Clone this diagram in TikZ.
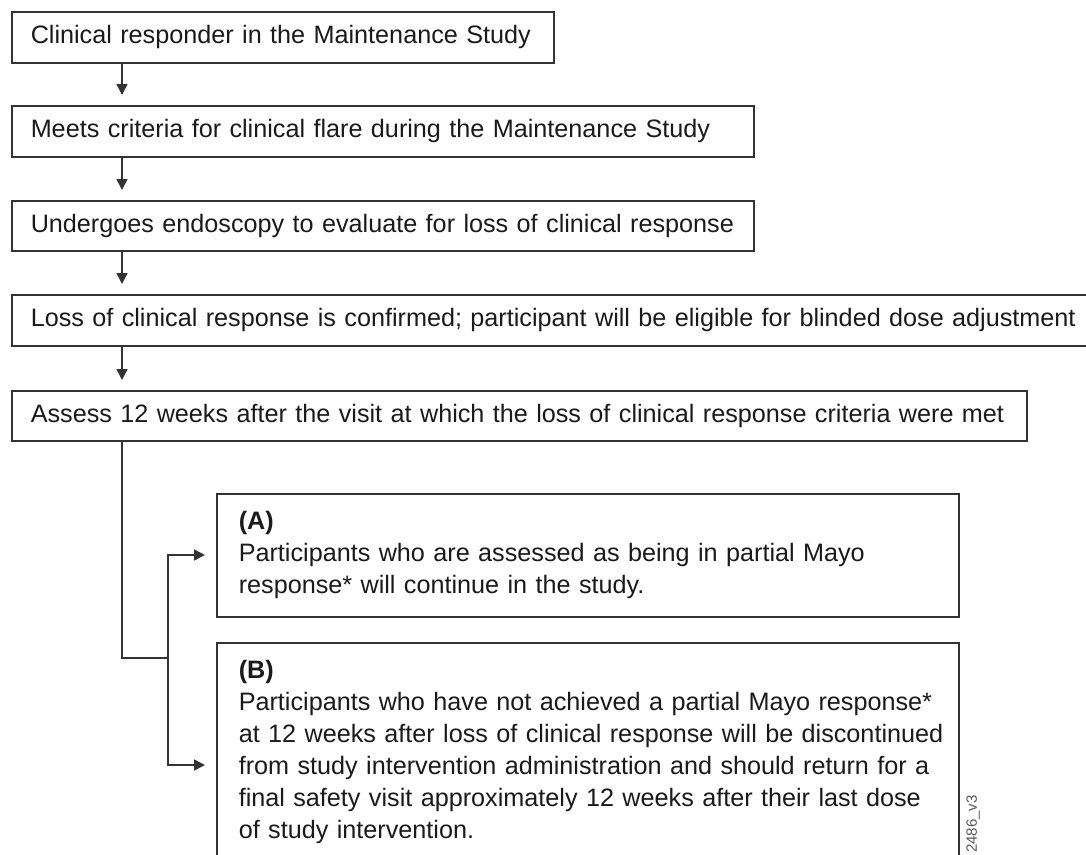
\documentclass[tikz,border=0pt]{standalone}
\usepackage{fontspec}
\setmainfont{Liberation Sans}
\usetikzlibrary{arrows.meta,calc}
\definecolor{linec}{HTML}{333333}
\definecolor{txtc}{HTML}{1A1A1A}
\definecolor{tagc}{HTML}{5A5A5A}
\newcommand{\ml}[1]{\mbox{#1}}
\begin{document}
\begin{tikzpicture}[x=1pt,y=-1pt,
  box/.style={draw=linec, line width=1.5pt, rectangle, anchor=north west, inner xsep=19pt, inner ysep=0pt, align=left, font=\fontsize{25.2}{32}\selectfont, text=txtc},
  arr/.style={draw=linec, line width=1.5pt, -{Triangle[length=11pt,width=11pt]}},
  ln/.style={draw=linec, line width=1.5pt}]
\useasboundingbox (0,0) rectangle (1086,854);
\clip (0,0) rectangle (1086,854);
\fill[white] (0,0) rectangle (1086,854);
\node[box, text width=504pt, minimum height=51pt] (b1) at (11,11) {\ml{Clinical responder in the Maintenance Study}};
\node[box, text width=704pt, minimum height=51pt] (b2) at (11,105) {\ml{Meets criteria for clinical flare during the Maintenance Study}};
\node[box, text width=704pt, minimum height=50pt] (b3) at (11,200) {\ml{Undergoes endoscopy to evaluate for loss of clinical response}};
\node[box, text width=1062pt, minimum height=51pt] (b4) at (11,294) {\ml{Loss of clinical response is confirmed; participant will be eligible for blinded dose adjustment}};
\node[box, text width=977pt, minimum height=50pt] (b5) at (11,390) {\ml{Assess 12 weeks after the visit at which the loss of clinical response criteria were met}};
\node[box, inner xsep=22pt, text width=698pt, minimum height=123pt] (bA) at (216,493) {\textbf{(A)}\\\ml{Participants who are assessed as being in partial Mayo}\\\ml{response* will continue in the study.}};
\node[box, inner xsep=22pt, text width=698pt, minimum height=218pt] (bB) at (216,642) {\textbf{(B)}\\\ml{Participants who have not achieved a partial Mayo response*}\\\ml{at 12 weeks after loss of clinical response will be discontinued}\\\ml{from study intervention administration and should return for a}\\\ml{final safety visit approximately 12 weeks after their last dose}\\\ml{of study intervention.}};
\draw[arr, shorten >=10pt] ($(b1.south west)+(111,0)$) -- ($(b2.north west)+(111,0)$);
\draw[arr, shorten >=10pt] ($(b2.south west)+(111,0)$) -- ($(b3.north west)+(111,0)$);
\draw[arr, shorten >=10pt] ($(b3.south west)+(111,0)$) -- ($(b4.north west)+(111,0)$);
\draw[arr, shorten >=10pt] ($(b4.south west)+(111,0)$) -- ($(b5.north west)+(111,0)$);
\coordinate (jn) at (168,658);
\coordinate (inA) at ($(bA.north west)+(0,62)$);
\coordinate (inB) at ($(bB.north west)+(0,123)$);
\draw[ln] ($(b5.south west)+(111,0)$) |- (jn);
\draw[arr, shorten >=11pt] (jn) |- (inA);
\draw[arr, shorten >=11pt] (jn) |- (inB);
\node[rotate=90, anchor=east, inner sep=0pt, text=tagc, font=\fontsize{15}{18}\selectfont] (tag) at (973,795) {2486\_v3};
\end{tikzpicture}
\end{document}
